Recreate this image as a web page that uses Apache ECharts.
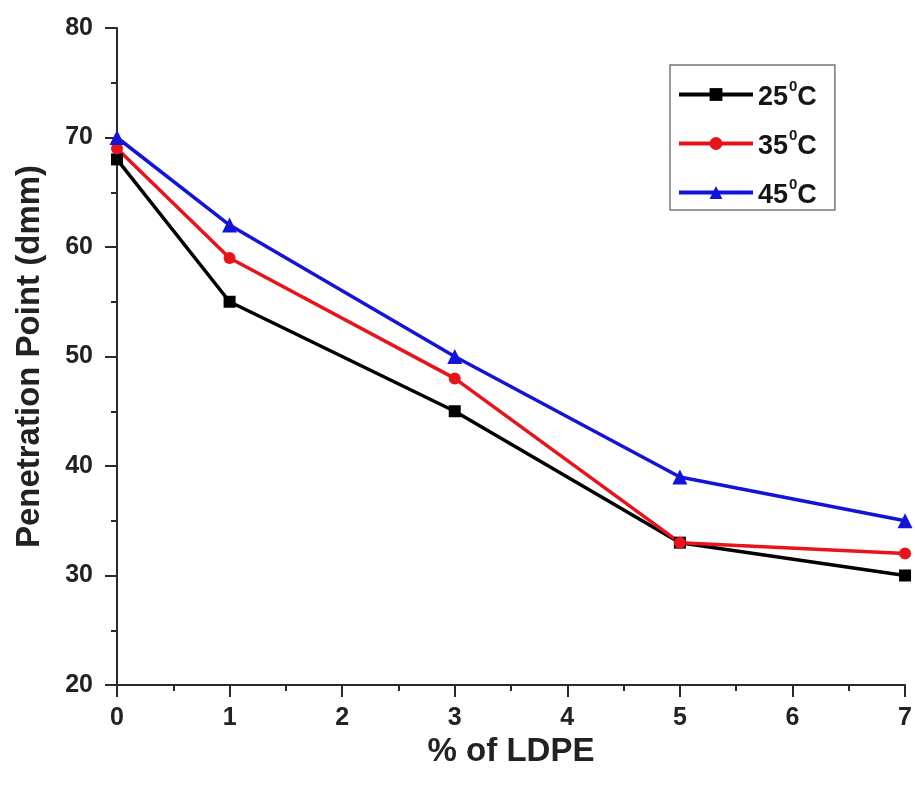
<!DOCTYPE html>
<html><head><meta charset="utf-8">
<script src="https://cdn.jsdelivr.net/npm/echarts@6/dist/echarts.min.js"></script>
<style>html,body{margin:0;padding:0;background:#fff}#c{width:915px;height:787px}</style>
</head><body><div id="c"></div>
<script>
const xValues = [0, 1, 3, 5, 7];
const temps = ['25', '35', '45'];
const s25 = [68, 55, 45, 33, 30];
const s35 = [69, 59, 48, 33, 32];
const s45 = [70, 62, 50, 39, 35];
const colors = ['#000000', '#e8141b', '#1414d8'];
const symbols = ['rect', 'circle', 'triangle'];
const seriesData = [s25, s35, s45];
const F = 'Liberation Sans, Arial, sans-serif';
const AX = '#2a2a2a';
const chart = echarts.init(document.getElementById('c'));
chart.setOption({
  animation: false,
  grid: {left: 117, right: 7, top: 28, bottom: 102},
  legend: {
    left: 670, top: 65, orient: 'vertical', itemGap: 16,
    itemWidth: 74, itemHeight: 16,
    lineStyle: {width: 4},
    borderColor: '#777', borderWidth: 1.5, padding: [13, 18, 1, 7],
    data: temps.map(t => t + '°C'),
    formatter: n => '{a|' + n.replace('°C', '') + '}{s|0}{a|C}',
    textStyle: {
      rich: {
        a: {fontFamily: F, fontSize: 27, fontWeight: 'bold', color: '#151515', lineHeight: 30, padding: [6, 0, 0, 0]},
        s: {fontFamily: F, fontSize: 15, fontWeight: 'bold', color: '#151515', lineHeight: 30, verticalAlign: 'top', padding: [0, 0, 8, 1]}
      }
    }
  },
  xAxis: {
    type: 'value', min: 0, max: 7, interval: 1,
    name: '% of LDPE', nameLocation: 'middle', nameGap: 43,
    nameTextStyle: {fontFamily: F, fontSize: 33, fontWeight: 'bold', color: '#222'},
    axisLine: {show: true, onZero: false, lineStyle: {color: AX, width: 2}},
    axisTick: {show: true, inside: false, length: 12, lineStyle: {color: AX, width: 2}},
    minorTick: {show: true, splitNumber: 2, length: 6, lineStyle: {color: AX, width: 2}},
    axisLabel: {fontFamily: F, fontSize: 25, fontWeight: 'bold', color: '#222', margin: 21},
    splitLine: {show: false}
  },
  yAxis: {
    type: 'value', min: 20, max: 80, interval: 10,
    name: 'Penetration Point (dmm)', nameLocation: 'middle', nameGap: 71,
    nameTextStyle: {fontFamily: F, fontSize: 33, fontWeight: 'bold', color: '#222'},
    axisLine: {show: true, onZero: false, lineStyle: {color: AX, width: 2}},
    axisTick: {show: true, inside: false, length: 12, lineStyle: {color: AX, width: 2}},
    minorTick: {show: true, splitNumber: 2, length: 6, lineStyle: {color: AX, width: 2}},
    axisLabel: {fontFamily: F, fontSize: 25, fontWeight: 'bold', color: '#222', margin: 24},
    splitLine: {show: false}
  },
  series: temps.map((t, i) => ({
    name: t + '°C', type: 'line',
    data: xValues.map((x, j) => [x, seriesData[i][j]]),
    symbol: symbols[i], symbolSize: i === 2 ? 15 : 12, showAllSymbol: true,
    clip: false,
    itemStyle: {color: colors[i]},
    lineStyle: {color: colors[i], width: 3.5}
  }))
});
</script></body></html>
